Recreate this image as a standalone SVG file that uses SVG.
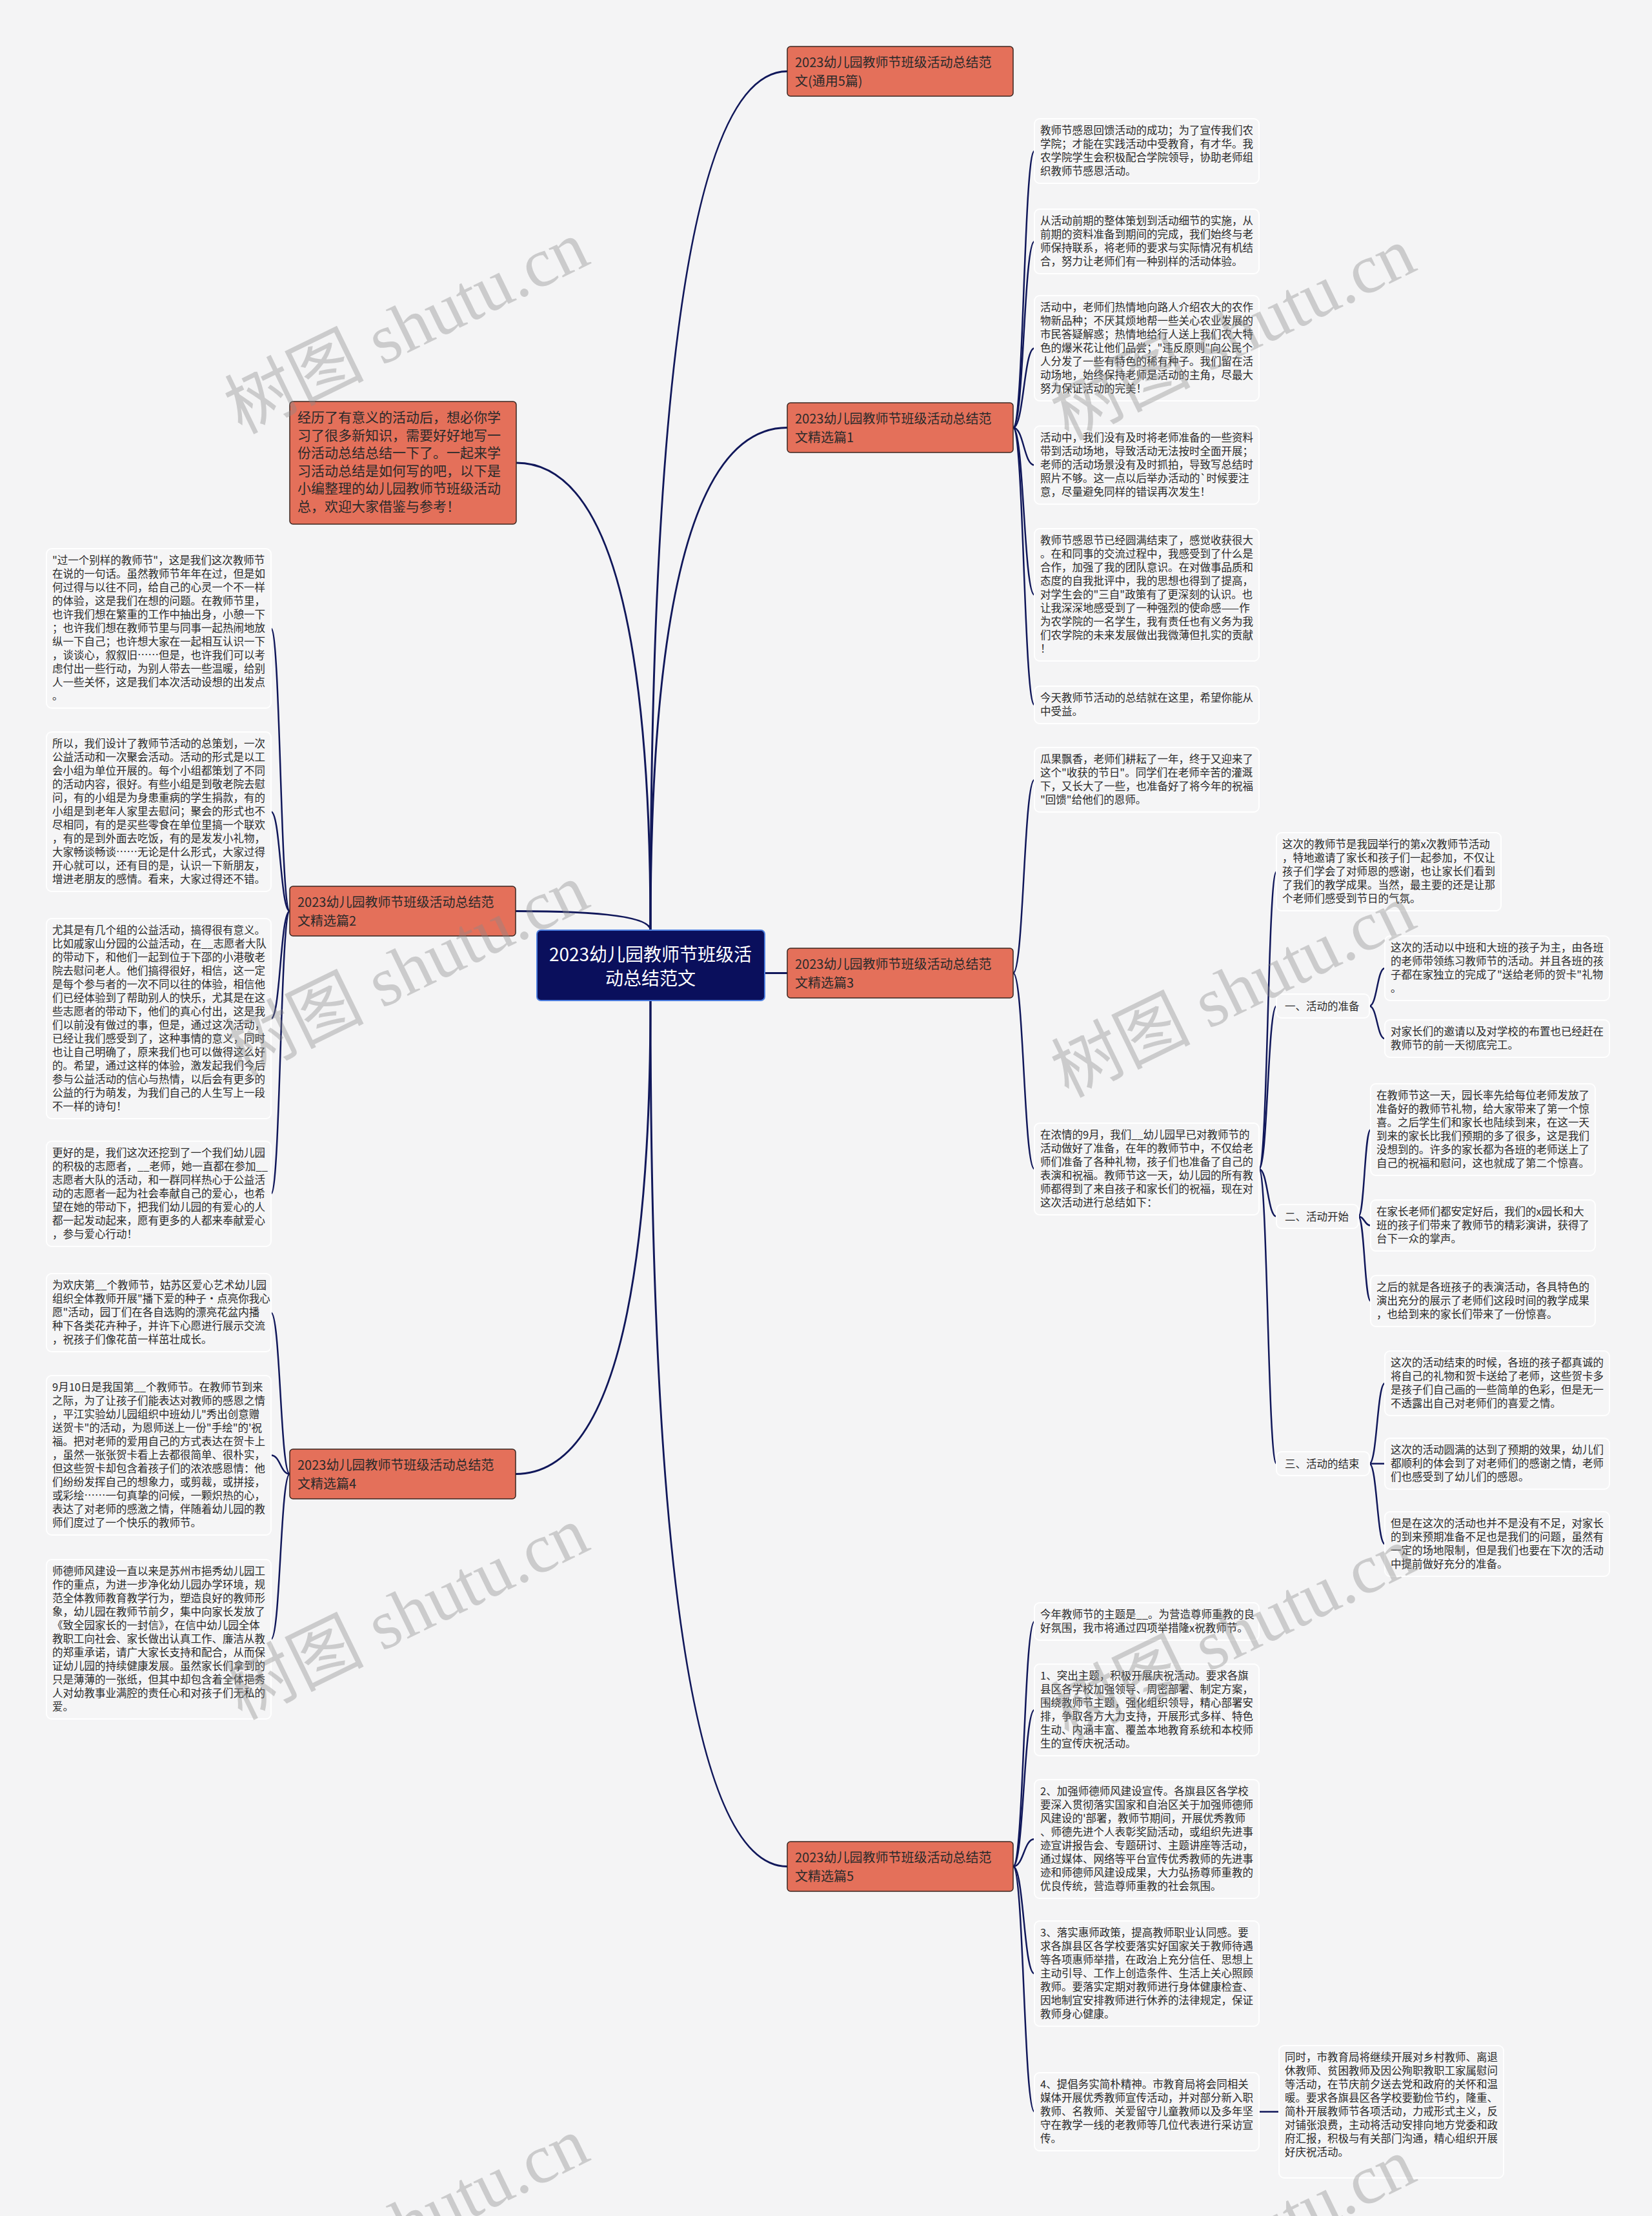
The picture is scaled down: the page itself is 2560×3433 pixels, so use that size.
<svg xmlns="http://www.w3.org/2000/svg" width="2560" height="3433" viewBox="0 0 2560 3433">
<defs>
<style>
.bg{fill:#F4F4F5}
.lf{fill:#F5F5F6;stroke:#FFFFFF;stroke-width:2}
.br{fill:#E4705A;stroke:#3A2620;stroke-width:1.5}
.t{font-family:"Noto Sans CJK SC","Liberation Sans",sans-serif;font-size:16.5px;fill:#2A2A2A}
.bt{font-family:"Noto Sans CJK SC","Liberation Sans",sans-serif;font-size:20px;fill:#2A2A2A}
.it{font-family:"Noto Sans CJK SC","Liberation Sans",sans-serif;font-size:21px;fill:#2A2A2A}
.ct{font-family:"Noto Sans CJK SC","Liberation Sans",sans-serif;font-size:28px;fill:#FFFFFF}
.c1{fill:none;stroke:#10175A;stroke-width:3}
.c2{fill:none;stroke:#10175A;stroke-width:2.5}
.wm{font-family:"Liberation Serif","Noto Sans CJK SC",serif;font-size:108px;fill:#8A8A8A;opacity:0.38}
</style>
</defs>
<rect class="bg" x="0" y="0" width="2560" height="3433"/>

<g id="connectors">
<path class="c1" d="M1008,1441 Q1008,110.5 1220,110.5"/>
<path class="c1" d="M1008,1441 Q1008,662.5 1220,662.5"/>
<path class="c1" d="M1185,1507.5 L1220,1507.5"/>
<path class="c1" d="M1008,1550 Q1008,2891.5 1220,2891.5"/>
<path class="c1" d="M1008,1441 Q1008,717 800,717"/>
<path class="c1" d="M1008,1441 Q1008,1411.5 799,1411.5"/>
<path class="c1" d="M1008,1550 Q1008,2283.5 799,2283.5"/>

<path class="c2" d="M1570,662.5 C1586.5,662.5 1586.5,234 1603,234"/>
<path class="c2" d="M1570,662.5 C1586.5,662.5 1586.5,374 1603,374"/>
<path class="c2" d="M1570,662.5 C1586.5,662.5 1586.5,539.5 1603,539.5"/>
<path class="c2" d="M1570,662.5 C1586.5,662.5 1586.5,720.5 1603,720.5"/>
<path class="c2" d="M1570,662.5 C1586.5,662.5 1586.5,921.5 1603,921.5"/>
<path class="c2" d="M1570,662.5 C1586.5,662.5 1586.5,1092 1603,1092"/>

<path class="c2" d="M1570,1507.5 C1586.5,1507.5 1586.5,1208 1603,1208"/>
<path class="c2" d="M1570,1507.5 C1586.5,1507.5 1586.5,1811 1603,1811"/>

<path class="c2" d="M1951,1811 C1964.5,1811 1964.5,1350.5 1978,1350.5"/>
<path class="c2" d="M1951,1811 C1964.5,1811 1964.5,1558.5 1978,1558.5"/>
<path class="c2" d="M1951,1811 C1964.5,1811 1964.5,1884.5 1978,1884.5"/>
<path class="c2" d="M1951,1811 C1964.5,1811 1964.5,2267.5 1978,2267.5"/>

<path class="c2" d="M2122,1558.5 C2134,1558.5 2134,1500 2146,1500"/>
<path class="c2" d="M2122,1558.5 C2134,1558.5 2134,1609 2146,1609"/>
<path class="c2" d="M2105,1884.5 C2114.5,1884.5 2114.5,1750 2124,1750"/>
<path class="c2" d="M2105,1884.5 C2114.5,1884.5 2114.5,1898.5 2124,1898.5"/>
<path class="c2" d="M2105,1884.5 C2114.5,1884.5 2114.5,2015.5 2124,2015.5"/>
<path class="c2" d="M2122,2267.5 C2134,2267.5 2134,2143 2146,2143"/>
<path class="c2" d="M2122,2267.5 C2134,2267.5 2134,2267.5 2146,2267.5"/>
<path class="c2" d="M2122,2267.5 C2134,2267.5 2134,2392 2146,2392"/>

<path class="c2" d="M1570,2891.5 C1586.5,2891.5 1586.5,2512 1603,2512"/>
<path class="c2" d="M1570,2891.5 C1586.5,2891.5 1586.5,2649 1603,2649"/>
<path class="c2" d="M1570,2891.5 C1586.5,2891.5 1586.5,2849 1603,2849"/>
<path class="c2" d="M1570,2891.5 C1586.5,2891.5 1586.5,3057.5 1603,3057.5"/>
<path class="c2" d="M1570,2891.5 C1586.5,2891.5 1586.5,3271.5 1603,3271.5"/>
<path class="c2" d="M1951,3271.5 L1982,3271.5"/>

<path class="c2" d="M449,1411.5 C434.5,1411.5 434.5,973.5 420,973.5"/>
<path class="c2" d="M449,1411.5 C434.5,1411.5 434.5,1257.5 420,1257.5"/>
<path class="c2" d="M449,1411.5 C434.5,1411.5 434.5,1578 420,1578"/>
<path class="c2" d="M449,1411.5 C434.5,1411.5 434.5,1849.5 420,1849.5"/>
<path class="c2" d="M449,2283.5 C434.5,2283.5 434.5,2033.5 420,2033.5"/>
<path class="c2" d="M449,2283.5 C434.5,2283.5 434.5,2254.5 420,2254.5"/>
<path class="c2" d="M449,2283.5 C434.5,2283.5 434.5,2539.5 420,2539.5"/>
</g>

<g id="center">
<rect x="832" y="1441" width="353" height="109" rx="6" fill="#0A0F5C" stroke="#4D7FE0" stroke-width="2"/>
<text class="ct" text-anchor="middle"><tspan x="1008" y="1489">2023幼儿园教师节班级活</tspan><tspan x="1008" y="1526">动总结范文</tspan></text>
</g>

<g id="intro">
<rect class="br" x="449" y="622" width="351" height="190" rx="5"/>
<text class="it"><tspan x="461" y="654">经历了有意义的活动后，想必你学</tspan><tspan x="461" dy="27.6">习了很多新知识，需要好好地写一</tspan><tspan x="461" dy="27.6">份活动总结总结一下了。一起来学</tspan><tspan x="461" dy="27.6">习活动总结是如何写的吧，以下是</tspan><tspan x="461" dy="27.6">小编整理的幼儿园教师节班级活动</tspan><tspan x="461" dy="27.6">总，欢迎大家借鉴与参考！</tspan></text>
</g>

<g id="branch0">
<rect class="br" x="1220" y="72" width="350" height="77" rx="5"/>
<text class="bt"><tspan x="1232" y="104">2023幼儿园教师节班级活动总结范</tspan><tspan x="1232" y="133">文(通用5篇)</tspan></text>
</g>
<g id="branch1">
<rect class="br" x="1220" y="624" width="350" height="77" rx="5"/>
<text class="bt"><tspan x="1232" y="656">2023幼儿园教师节班级活动总结范</tspan><tspan x="1232" y="685">文精选篇1</tspan></text>
</g>
<g id="branch3">
<rect class="br" x="1220" y="1469" width="350" height="77" rx="5"/>
<text class="bt"><tspan x="1232" y="1501">2023幼儿园教师节班级活动总结范</tspan><tspan x="1232" y="1530">文精选篇3</tspan></text>
</g>
<g id="branch5">
<rect class="br" x="1220" y="2853" width="350" height="77" rx="5"/>
<text class="bt"><tspan x="1232" y="2885">2023幼儿园教师节班级活动总结范</tspan><tspan x="1232" y="2914">文精选篇5</tspan></text>
</g>
<g id="branch2">
<rect class="br" x="449" y="1373" width="350" height="77" rx="5"/>
<text class="bt"><tspan x="461" y="1405">2023幼儿园教师节班级活动总结范</tspan><tspan x="461" y="1434">文精选篇2</tspan></text>
</g>
<g id="branch4">
<rect class="br" x="449" y="2245" width="350" height="77" rx="5"/>
<text class="bt"><tspan x="461" y="2277">2023幼儿园教师节班级活动总结范</tspan><tspan x="461" y="2306">文精选篇4</tspan></text>
</g>

<g id="leafA">
<rect class="lf" x="72" y="850" width="348" height="247" rx="8"/>
<text class="t"><tspan x="81" y="874">"过一个别样的教师节"，这是我们这次教师节</tspan><tspan x="81" dy="21">在说的一句话。虽然教师节年年在过，但是如</tspan><tspan x="81" dy="21">何过得与以往不同，给自己的心灵一个不一样</tspan><tspan x="81" dy="21">的体验，这是我们在想的问题。在教师节里，</tspan><tspan x="81" dy="21">也许我们想在繁重的工作中抽出身，小憩一下</tspan><tspan x="81" dy="21">；也许我们想在教师节里与同事一起热闹地放</tspan><tspan x="81" dy="21">纵一下自己；也许想大家在一起相互认识一下</tspan><tspan x="81" dy="21">，谈谈心，叙叙旧……但是，也许我们可以考</tspan><tspan x="81" dy="21">虑付出一些行动，为别人带去一些温暖，给别</tspan><tspan x="81" dy="21">人一些关怀，这是我们本次活动设想的出发点</tspan><tspan x="81" dy="21">。</tspan></text>
</g>
<g id="leafB">
<rect class="lf" x="72" y="1134" width="348" height="247" rx="8"/>
<text class="t"><tspan x="81" y="1158">所以，我们设计了教师节活动的总策划，一次</tspan><tspan x="81" dy="21">公益活动和一次聚会活动。活动的形式是以工</tspan><tspan x="81" dy="21">会小组为单位开展的。每个小组都策划了不同</tspan><tspan x="81" dy="21">的活动内容，很好。有些小组是到敬老院去慰</tspan><tspan x="81" dy="21">问，有的小组是为身患重病的学生捐款，有的</tspan><tspan x="81" dy="21">小组是到老年人家里去慰问；聚会的形式也不</tspan><tspan x="81" dy="21">尽相同，有的是买些零食在单位里搞一个联欢</tspan><tspan x="81" dy="21">，有的是到外面去吃饭，有的是发发小礼物，</tspan><tspan x="81" dy="21">大家畅谈畅谈……无论是什么形式，大家过得</tspan><tspan x="81" dy="21">开心就可以，还有目的是，认识一下新朋友，</tspan><tspan x="81" dy="21">增进老朋友的感情。看来，大家过得还不错。</tspan></text>
</g>
<g id="leafC">
<rect class="lf" x="72" y="1423" width="348" height="310" rx="8"/>
<text class="t"><tspan x="81" y="1447">尤其是有几个组的公益活动，搞得很有意义。</tspan><tspan x="81" dy="21">比如戚家山分园的公益活动，在__志愿者大队</tspan><tspan x="81" dy="21">的带动下，和他们一起到位于下邵的小港敬老</tspan><tspan x="81" dy="21">院去慰问老人。他们搞得很好，相信，这一定</tspan><tspan x="81" dy="21">是每个参与者的一次不同以往的体验，相信他</tspan><tspan x="81" dy="21">们已经体验到了帮助别人的快乐，尤其是在这</tspan><tspan x="81" dy="21">些志愿者的带动下，他们的真心付出，这是我</tspan><tspan x="81" dy="21">们以前没有做过的事，但是，通过这次活动，</tspan><tspan x="81" dy="21">已经让我们感受到了，这种事情的意义，同时</tspan><tspan x="81" dy="21">也让自己明确了，原来我们也可以做得这么好</tspan><tspan x="81" dy="21">的。希望，通过这样的体验，激发起我们今后</tspan><tspan x="81" dy="21">参与公益活动的信心与热情，以后会有更多的</tspan><tspan x="81" dy="21">公益的行为萌发，为我们自己的人生写上一段</tspan><tspan x="81" dy="21">不一样的诗句！</tspan></text>
</g>
<g id="leafD">
<rect class="lf" x="72" y="1768" width="348" height="163" rx="8"/>
<text class="t"><tspan x="81" y="1792">更好的是，我们这次还挖到了一个我们幼儿园</tspan><tspan x="81" dy="21">的积极的志愿者，__老师，她一直都在参加__</tspan><tspan x="81" dy="21">志愿者大队的活动，和一群同样热心于公益活</tspan><tspan x="81" dy="21">动的志愿者一起为社会奉献自己的爱心，也希</tspan><tspan x="81" dy="21">望在她的带动下，把我们幼儿园的有爱心的人</tspan><tspan x="81" dy="21">都一起发动起来，愿有更多的人都来奉献爱心</tspan><tspan x="81" dy="21">，参与爱心行动！</tspan></text>
</g>
<g id="leafE">
<rect class="lf" x="72" y="1973" width="348" height="121" rx="8"/>
<text class="t"><tspan x="81" y="1997">为欢庆第__个教师节，姑苏区爱心艺术幼儿园</tspan><tspan x="81" dy="21">组织全体教师开展"播下爱的种子·点亮你我心</tspan><tspan x="81" dy="21">愿"活动，园丁们在各自选购的漂亮花盆内播</tspan><tspan x="81" dy="21">种下各类花卉种子，并许下心愿进行展示交流</tspan><tspan x="81" dy="21">，祝孩子们像花苗一样茁壮成长。</tspan></text>
</g>
<g id="leafF">
<rect class="lf" x="72" y="2131" width="348" height="247" rx="8"/>
<text class="t"><tspan x="81" y="2155">9月10日是我国第__个教师节。在教师节到来</tspan><tspan x="81" dy="21">之际，为了让孩子们能表达对教师的感恩之情</tspan><tspan x="81" dy="21">，平江实验幼儿园组织中班幼儿"秀出创意赠</tspan><tspan x="81" dy="21">送贺卡"的活动，为恩师送上一份"手绘"的'祝</tspan><tspan x="81" dy="21">福。把对老师的爱用自己的方式表达在贺卡上</tspan><tspan x="81" dy="21">，虽然一张张贺卡看上去都很简单、很朴实，</tspan><tspan x="81" dy="21">但这些贺卡却包含着孩子们的浓浓感恩情：他</tspan><tspan x="81" dy="21">们纷纷发挥自己的想象力，或剪裁，或拼接，</tspan><tspan x="81" dy="21">或彩绘……一句真挚的问候，一颗炽热的心，</tspan><tspan x="81" dy="21">表达了对老师的感激之情，伴随着幼儿园的教</tspan><tspan x="81" dy="21">师们度过了一个快乐的教师节。</tspan></text>
</g>
<g id="leafG">
<rect class="lf" x="72" y="2416" width="348" height="247" rx="8"/>
<text class="t"><tspan x="81" y="2440">师德师风建设一直以来是苏州市挹秀幼儿园工</tspan><tspan x="81" dy="21">作的重点，为进一步净化幼儿园办学环境，规</tspan><tspan x="81" dy="21">范全体教师教育教学行为，塑造良好的教师形</tspan><tspan x="81" dy="21">象，幼儿园在教师节前夕，集中向家长发放了</tspan><tspan x="81" dy="21">《致全园家长的一封信》，在信中幼儿园全体</tspan><tspan x="81" dy="21">教职工向社会、家长做出认真工作、廉洁从教</tspan><tspan x="81" dy="21">的郑重承诺，请广大家长支持和配合，从而保</tspan><tspan x="81" dy="21">证幼儿园的持续健康发展。虽然家长们拿到的</tspan><tspan x="81" dy="21">只是薄薄的一张纸，但其中却包含着全体挹秀</tspan><tspan x="81" dy="21">人对幼教事业满腔的责任心和对孩子们无私的</tspan><tspan x="81" dy="21">爱。</tspan></text>
</g>

<g id="leafM1">
<rect class="lf" x="1603" y="184" width="348" height="100" rx="8"/>
<text class="t"><tspan x="1612" y="208">教师节感恩回馈活动的成功；为了宣传我们农</tspan><tspan x="1612" dy="21">学院；才能在实践活动中受教育，有才华。我</tspan><tspan x="1612" dy="21">农学院学生会积极配合学院领导，协助老师组</tspan><tspan x="1612" dy="21">织教师节感恩活动。</tspan></text>
</g>
<g id="leafM2">
<rect class="lf" x="1603" y="324" width="348" height="100" rx="8"/>
<text class="t"><tspan x="1612" y="348">从活动前期的整体策划到活动细节的实施，从</tspan><tspan x="1612" dy="21">前期的资料准备到期间的完成，我们始终与老</tspan><tspan x="1612" dy="21">师保持联系，将老师的要求与实际情况有机结</tspan><tspan x="1612" dy="21">合，努力让老师们有一种别样的活动体验。</tspan></text>
</g>
<g id="leafM3">
<rect class="lf" x="1603" y="458" width="348" height="163" rx="8"/>
<text class="t"><tspan x="1612" y="482">活动中，老师们热情地向路人介绍农大的农作</tspan><tspan x="1612" dy="21">物新品种；不厌其烦地帮一些关心农业发展的</tspan><tspan x="1612" dy="21">市民答疑解惑；热情地给行人送上我们农大特</tspan><tspan x="1612" dy="21">色的爆米花让他们品尝；"违反原则"向公民个</tspan><tspan x="1612" dy="21">人分发了一些有特色的稀有种子。我们留在活</tspan><tspan x="1612" dy="21">动场地，始终保持老师是活动的主角，尽最大</tspan><tspan x="1612" dy="21">努力保证活动的完美！</tspan></text>
</g>
<g id="leafM4">
<rect class="lf" x="1603" y="660" width="348" height="121" rx="8"/>
<text class="t"><tspan x="1612" y="684">活动中，我们没有及时将老师准备的一些资料</tspan><tspan x="1612" dy="21">带到活动场地，导致活动无法按时全面开展；</tspan><tspan x="1612" dy="21">老师的活动场景没有及时抓拍，导致写总结时</tspan><tspan x="1612" dy="21">照片不够。这一点以后举办活动的`时候要注</tspan><tspan x="1612" dy="21">意，尽量避免同样的错误再次发生！</tspan></text>
</g>
<g id="leafM5">
<rect class="lf" x="1603" y="819" width="348" height="205" rx="8"/>
<text class="t"><tspan x="1612" y="843">教师节感恩节已经圆满结束了，感觉收获很大</tspan><tspan x="1612" dy="21">。在和同事的交流过程中，我感受到了什么是</tspan><tspan x="1612" dy="21">合作，加强了我的团队意识。在对做事品质和</tspan><tspan x="1612" dy="21">态度的自我批评中，我的思想也得到了提高，</tspan><tspan x="1612" dy="21">对学生会的"三自"政策有了更深刻的认识。也</tspan><tspan x="1612" dy="21">让我深深地感受到了一种强烈的使命感——作</tspan><tspan x="1612" dy="21">为农学院的一名学生，我有责任也有义务为我</tspan><tspan x="1612" dy="21">们农学院的未来发展做出我微薄但扎实的贡献</tspan><tspan x="1612" dy="21">！</tspan></text>
</g>
<g id="leafM6">
<rect class="lf" x="1603" y="1063" width="348" height="58" rx="8"/>
<text class="t"><tspan x="1612" y="1087">今天教师节活动的总结就在这里，希望你能从</tspan><tspan x="1612" dy="21">中受益。</tspan></text>
</g>
<g id="leafM7">
<rect class="lf" x="1603" y="1158" width="348" height="100" rx="8"/>
<text class="t"><tspan x="1612" y="1182">瓜果飘香，老师们耕耘了一年，终于又迎来了</tspan><tspan x="1612" dy="21">这个"收获的节日"。同学们在老师辛苦的灌溉</tspan><tspan x="1612" dy="21">下，又长大了一些，也准备好了将今年的祝福</tspan><tspan x="1612" dy="21">"回馈"给他们的恩师。</tspan></text>
</g>
<g id="leafM8">
<rect class="lf" x="1603" y="1740" width="348" height="142" rx="8"/>
<text class="t"><tspan x="1612" y="1764">在浓情的9月，我们__幼儿园早已对教师节的</tspan><tspan x="1612" dy="21">活动做好了准备，在年的教师节中，不仅给老</tspan><tspan x="1612" dy="21">师们准备了各种礼物，孩子们也准备了自己的</tspan><tspan x="1612" dy="21">表演和祝福。教师节这一天，幼儿园的所有教</tspan><tspan x="1612" dy="21">师都得到了来自孩子和家长们的祝福，现在对</tspan><tspan x="1612" dy="21">这次活动进行总结如下：</tspan></text>
</g>

<g id="leafR1">
<rect class="lf" x="1978" y="1290" width="348" height="121" rx="8"/>
<text class="t"><tspan x="1987" y="1314">这次的教师节是我园举行的第x次教师节活动</tspan><tspan x="1987" dy="21">，特地邀请了家长和孩子们一起参加，不仅让</tspan><tspan x="1987" dy="21">孩子们学会了对师恩的感谢，也让家长们看到</tspan><tspan x="1987" dy="21">了我们的教学成果。当然，最主要的还是让那</tspan><tspan x="1987" dy="21">个老师们感受到节日的气氛。</tspan></text>
</g>
<g id="label1">
<rect class="lf" x="1978" y="1540" width="144" height="37" rx="8"/>
<text class="t" x="1991" y="1565">一、活动的准备</text>
</g>
<g id="leafR2">
<rect class="lf" x="2146" y="1450" width="348" height="100" rx="8"/>
<text class="t"><tspan x="2155" y="1474">这次的活动以中班和大班的孩子为主，由各班</tspan><tspan x="2155" dy="21">的老师带领练习教师节的活动。并且各班的孩</tspan><tspan x="2155" dy="21">子都在家独立的完成了"送给老师的贺卡"礼物</tspan><tspan x="2155" dy="21">。</tspan></text>
</g>
<g id="leafR3">
<rect class="lf" x="2146" y="1580" width="348" height="58" rx="8"/>
<text class="t"><tspan x="2155" y="1604">对家长们的邀请以及对学校的布置也已经赶在</tspan><tspan x="2155" dy="21">教师节的前一天彻底完工。</tspan></text>
</g>
<g id="label2">
<rect class="lf" x="1978" y="1866" width="127" height="37" rx="8"/>
<text class="t" x="1991" y="1891">二、活动开始</text>
</g>
<g id="leafR4">
<rect class="lf" x="2124" y="1679" width="348" height="142" rx="8"/>
<text class="t"><tspan x="2133" y="1703">在教师节这一天，园长率先给每位老师发放了</tspan><tspan x="2133" dy="21">准备好的教师节礼物，给大家带来了第一个惊</tspan><tspan x="2133" dy="21">喜。之后学生们和家长也陆续到来，在这一天</tspan><tspan x="2133" dy="21">到来的家长比我们预期的多了很多，这是我们</tspan><tspan x="2133" dy="21">没想到的。许多的家长都为各班的老师送上了</tspan><tspan x="2133" dy="21">自己的祝福和慰问，这也就成了第二个惊喜。</tspan></text>
</g>
<g id="leafR5">
<rect class="lf" x="2124" y="1859" width="348" height="79" rx="8"/>
<text class="t"><tspan x="2133" y="1883">在家长老师们都安定好后，我们的x园长和大</tspan><tspan x="2133" dy="21">班的孩子们带来了教师节的精彩演讲，获得了</tspan><tspan x="2133" dy="21">台下一众的掌声。</tspan></text>
</g>
<g id="leafR6">
<rect class="lf" x="2124" y="1976" width="348" height="79" rx="8"/>
<text class="t"><tspan x="2133" y="2000">之后的就是各班孩子的表演活动，各具特色的</tspan><tspan x="2133" dy="21">演出充分的展示了老师们这段时间的教学成果</tspan><tspan x="2133" dy="21">，也给到来的家长们带来了一份惊喜。</tspan></text>
</g>
<g id="label3">
<rect class="lf" x="1978" y="2249" width="144" height="37" rx="8"/>
<text class="t" x="1991" y="2274">三、活动的结束</text>
</g>
<g id="leafR7">
<rect class="lf" x="2146" y="2093" width="348" height="100" rx="8"/>
<text class="t"><tspan x="2155" y="2117">这次的活动结束的时候，各班的孩子都真诚的</tspan><tspan x="2155" dy="21">将自己的礼物和贺卡送给了老师，这些贺卡多</tspan><tspan x="2155" dy="21">是孩子们自己画的一些简单的色彩，但是无一</tspan><tspan x="2155" dy="21">不透露出自己对老师们的喜爱之情。</tspan></text>
</g>
<g id="leafR8">
<rect class="lf" x="2146" y="2228" width="348" height="79" rx="8"/>
<text class="t"><tspan x="2155" y="2252">这次的活动圆满的达到了预期的效果，幼儿们</tspan><tspan x="2155" dy="21">都顺利的体会到了对老师们的感谢之情，老师</tspan><tspan x="2155" dy="21">们也感受到了幼儿们的感恩。</tspan></text>
</g>
<g id="leafR9">
<rect class="lf" x="2146" y="2342" width="348" height="100" rx="8"/>
<text class="t"><tspan x="2155" y="2366">但是在这次的活动也并不是没有不足，对家长</tspan><tspan x="2155" dy="21">的到来预期准备不足也是我们的问题，虽然有</tspan><tspan x="2155" dy="21">一定的场地限制，但是我们也要在下次的活动</tspan><tspan x="2155" dy="21">中提前做好充分的准备。</tspan></text>
</g>

<g id="leafM9">
<rect class="lf" x="1603" y="2483" width="348" height="58" rx="8"/>
<text class="t"><tspan x="1612" y="2507">今年教师节的主题是__。为营造尊师重教的良</tspan><tspan x="1612" dy="21">好氛围，我市将通过四项举措隆x祝教师节。</tspan></text>
</g>
<g id="leafM10">
<rect class="lf" x="1603" y="2578" width="348" height="142" rx="8"/>
<text class="t"><tspan x="1612" y="2602">1、突出主题，积极开展庆祝活动。要求各旗</tspan><tspan x="1612" dy="21">县区各学校加强领导、周密部署、制定方案，</tspan><tspan x="1612" dy="21">围绕教师节主题，强化组织领导，精心部署安</tspan><tspan x="1612" dy="21">排，争取各方大力支持，开展形式多样、特色</tspan><tspan x="1612" dy="21">生动、内涵丰富、覆盖本地教育系统和本校师</tspan><tspan x="1612" dy="21">生的宣传庆祝活动。</tspan></text>
</g>
<g id="leafM11">
<rect class="lf" x="1603" y="2757" width="348" height="184" rx="8"/>
<text class="t"><tspan x="1612" y="2781">2、加强师德师风建设宣传。各旗县区各学校</tspan><tspan x="1612" dy="21">要深入贯彻落实国家和自治区关于加强师德师</tspan><tspan x="1612" dy="21">风建设的'部署，教师节期间，开展优秀教师</tspan><tspan x="1612" dy="21">、师德先进个人表彰奖励活动，或组织先进事</tspan><tspan x="1612" dy="21">迹宣讲报告会、专题研讨、主题讲座等活动，</tspan><tspan x="1612" dy="21">通过媒体、网络等平台宣传优秀教师的先进事</tspan><tspan x="1612" dy="21">迹和师德师风建设成果，大力弘扬尊师重教的</tspan><tspan x="1612" dy="21">优良传统，营造尊师重教的社会氛围。</tspan></text>
</g>
<g id="leafM12">
<rect class="lf" x="1603" y="2976" width="348" height="163" rx="8"/>
<text class="t"><tspan x="1612" y="3000">3、落实惠师政策，提高教师职业认同感。要</tspan><tspan x="1612" dy="21">求各旗县区各学校要落实好国家关于教师待遇</tspan><tspan x="1612" dy="21">等各项惠师举措，在政治上充分信任、思想上</tspan><tspan x="1612" dy="21">主动引导、工作上创造条件、生活上关心照顾</tspan><tspan x="1612" dy="21">教师。要落实定期对教师进行身体健康检查、</tspan><tspan x="1612" dy="21">因地制宜安排教师进行休养的法律规定，保证</tspan><tspan x="1612" dy="21">教师身心健康。</tspan></text>
</g>
<g id="leafM13">
<rect class="lf" x="1603" y="3211" width="348" height="121" rx="8"/>
<text class="t"><tspan x="1612" y="3235">4、提倡务实简朴精神。市教育局将会同相关</tspan><tspan x="1612" dy="21">媒体开展优秀教师宣传活动，并对部分新入职</tspan><tspan x="1612" dy="21">教师、名教师、关爱留守儿童教师以及多年坚</tspan><tspan x="1612" dy="21">守在教学一线的老教师等几位代表进行采访宣</tspan><tspan x="1612" dy="21">传。</tspan></text>
</g>
<g id="leafM14">
<rect class="lf" x="1982" y="3169" width="348" height="205" rx="8"/>
<text class="t"><tspan x="1991" y="3193">同时，市教育局将继续开展对乡村教师、离退</tspan><tspan x="1991" dy="21">休教师、贫困教师及因公殉职教职工家属慰问</tspan><tspan x="1991" dy="21">等活动，在节庆前夕送去党和政府的关怀和温</tspan><tspan x="1991" dy="21">暖。要求各旗县区各学校要勤俭节约，隆重、</tspan><tspan x="1991" dy="21">简朴开展教师节各项活动，力戒形式主义，反</tspan><tspan x="1991" dy="21">对铺张浪费，主动将活动安排向地方党委和政</tspan><tspan x="1991" dy="21">府汇报，积极与有关部门沟通，精心组织开展</tspan><tspan x="1991" dy="21">好庆祝活动。</tspan></text>
</g>

<g id="watermarks">
<text class="wm" text-anchor="middle" transform="translate(646,540) rotate(-26)">树图 shutu.cn</text>
<text class="wm" text-anchor="middle" transform="translate(1927,550) rotate(-26)">树图 shutu.cn</text>
<text class="wm" text-anchor="middle" transform="translate(646,1536) rotate(-26)">树图 shutu.cn</text>
<text class="wm" text-anchor="middle" transform="translate(1927,1568) rotate(-26)">树图 shutu.cn</text>
<text class="wm" text-anchor="middle" transform="translate(646,2532) rotate(-26)">树图 shutu.cn</text>
<text class="wm" text-anchor="middle" transform="translate(1927,2564) rotate(-26)">树图 shutu.cn</text>
<text class="wm" text-anchor="middle" transform="translate(646,3478) rotate(-26)">树图 shutu.cn</text>
<text class="wm" text-anchor="middle" transform="translate(1927,3510) rotate(-26)">树图 shutu.cn</text>
</g>
</svg>
